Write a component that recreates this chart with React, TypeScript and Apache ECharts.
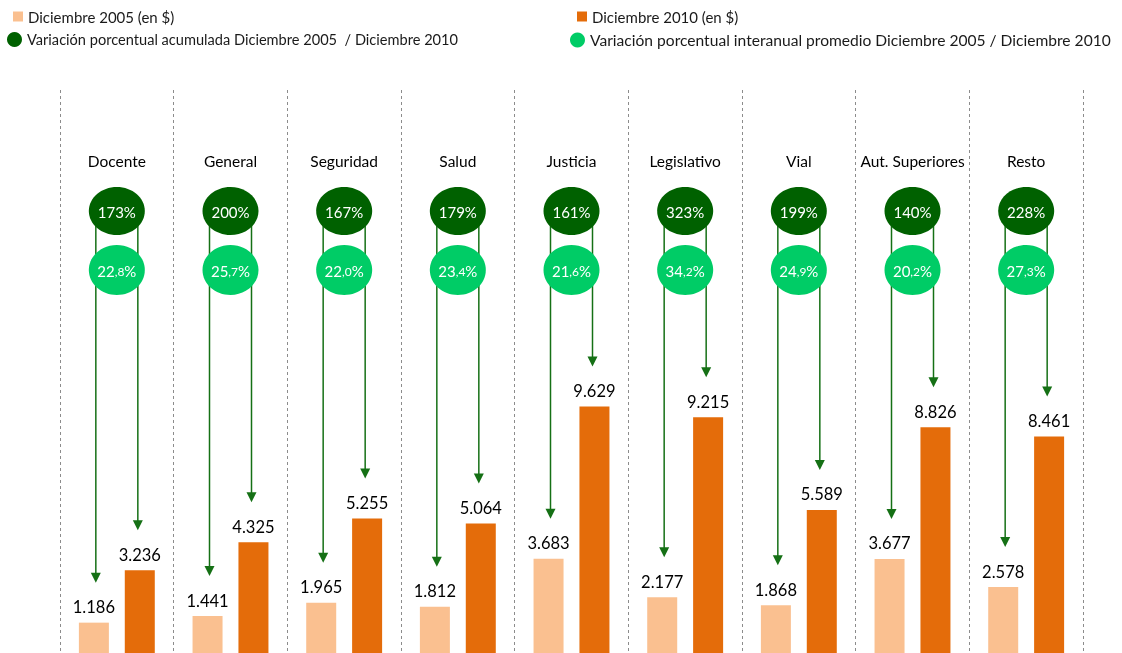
import React, { useEffect, useRef } from "react";
import * as echarts from "echarts";

const categories = ["Docente", "General", "Seguridad", "Salud", "Justicia", "Legislativo", "Vial", "Aut. Superiores", "Resto"];
const dic2005 = [1186, 1441, 1965, 1812, 3683, 2177, 1868, 3677, 2578];
const dic2010 = [3236, 4325, 5255, 5064, 9629, 9215, 5589, 8826, 8461];
const varAcumulada = [173, 200, 167, 179, 161, 323, 199, 140, 228];
const varInteranual = [22.8, 25.7, 22.0, 23.4, 21.6, 34.2, 24.9, 20.2, 27.3];

const NAME_2005 = "Diciembre 2005 (en $)";
const NAME_2010 = "Diciembre 2010 (en $)";
const NAME_ACUM = "Variación porcentual acumulada Diciembre 2005  / Diciembre 2010";
const NAME_INTER = "Variación porcentual interanual promedio Diciembre 2005 / Diciembre 2010";

const FONT = "Lato, 'Noto Sans', sans-serif";
const C_LIGHT = "#fac090";
const C_DARK = "#e46c0a";
const C_DGREEN = "#006100";
const C_LGREEN = "#00cc66";
const C_ARROW = "#157015";

const fmt = (n: number) => String(n).replace(/\B(?=(\d{3})+(?!\d))/g, ".");

export default function App() {
  const ref = useRef<HTMLDivElement>(null);
  useEffect(() => {
    if (!ref.current) return;
    const chart = echarts.init(ref.current, undefined, { renderer: "svg" });
    const rows = categories.map((_, i) => [i, dic2005[i], dic2010[i], varAcumulada[i], varInteranual[i]]);
    const legendBase = {
      orient: "vertical" as const,
      padding: 0,
      textStyle: { fontFamily: FONT, fontSize: 15, color: "#1a1a1a" },
      selectedMode: false,
    };
    chart.setOption({
      animation: false,
      legend: [
        { ...legendBase, data: [{ name: NAME_2005, icon: "rect" }], left: 13, top: 9, itemWidth: 10, itemHeight: 10 },
        { ...legendBase, data: [{ name: NAME_ACUM, icon: "circle" }], left: 7, top: 32, itemWidth: 15, itemHeight: 15, textStyle: { fontFamily: FONT, fontSize: 14.6, color: "#1a1a1a" } },
        { ...legendBase, data: [{ name: NAME_2010, icon: "rect" }], left: 577, top: 9, itemWidth: 10, itemHeight: 10 },
        { ...legendBase, data: [{ name: NAME_INTER, icon: "circle" }], left: 570, top: 32, itemWidth: 15, itemHeight: 15, textStyle: { fontFamily: FONT, fontSize: 15.6, color: "#1a1a1a" } },
      ],
      grid: { left: 60, right: 39, top: 90, bottom: 0 },
      xAxis: {
        type: "category",
        data: categories,
        position: "top",
        axisLine: { show: false },
        axisTick: { show: false },
        splitLine: { show: true, interval: 0, lineStyle: { type: [3, 3], color: "#8c8c8c", width: 1 } },
        axisLabel: { inside: true, interval: 0, margin: 63, fontFamily: FONT, fontSize: 15.5, color: "#000" },
      },
      yAxis: { type: "value", min: 0, max: 22000, show: false },
      series: [
        {
          name: NAME_2005,
          type: "bar",
          data: dic2005,
          barWidth: 30,
          barGap: "53%",
          itemStyle: { color: C_LIGHT },
          label: { show: true, position: "top", distance: 7, fontFamily: FONT, fontSize: 16.5, color: "#000", formatter: (p: any) => fmt(p.value) },
        },
        {
          name: NAME_2010,
          type: "bar",
          data: dic2010,
          barWidth: 30,
          itemStyle: { color: C_DARK },
          label: { show: true, position: "top", distance: 7, fontFamily: FONT, fontSize: 16.5, color: "#000", formatter: (p: any) => fmt(p.value) },
        },
        {
          name: NAME_ACUM,
          type: "custom",
          clip: false,
          z: 3,
          itemStyle: { color: C_DGREEN },
          encode: { x: 0, y: [1, 2] },
          data: rows,
          renderItem: (params: any, api: any) => {
            const i = api.value(0);
            const pL = api.coord([i, api.value(1)]);
            const pD = api.coord([i, api.value(2)]);
            const cx = pL[0];
            const yStart = 211;
            const arrow = (x: number, tip: number) => [
              { type: "line", shape: { x1: x, y1: yStart, x2: x, y2: tip - 8 }, style: { stroke: C_ARROW, lineWidth: 1.5 } },
              { type: "polygon", shape: { points: [[x - 5, tip - 10], [x + 5, tip - 10], [x, tip]] }, style: { fill: C_ARROW } },
            ];
            return {
              type: "group",
              children: [
                ...arrow(cx - 21, pL[1] - 40),
                ...arrow(cx + 21, pD[1] - 40),
                { type: "ellipse", shape: { cx, cy: 211, rx: 28, ry: 24 }, style: { fill: C_DGREEN } },
                {
                  type: "text",
                  x: cx,
                  y: 212,
                  style: { text: api.value(3) + "%", fill: "#fff", fontFamily: FONT, fontSize: 15, align: "center", verticalAlign: "middle" },
                },
              ],
            };
          },
        },
        {
          name: NAME_INTER,
          type: "custom",
          clip: false,
          z: 4,
          itemStyle: { color: C_LGREEN },
          encode: { x: 0, y: 1 },
          data: rows,
          renderItem: (params: any, api: any) => {
            const i = api.value(0);
            const p = api.coord([i, api.value(1)]);
            const cx = p[0];
            const v = api.value(4);
            const s = v.toFixed(1).split(".");
            return {
              type: "group",
              children: [
                { type: "ellipse", shape: { cx, cy: 270, rx: 28, ry: 25 }, style: { fill: C_LGREEN } },
                {
                  type: "text",
                  x: cx,
                  y: 271,
                  style: {
                    text: `{a|${s[0]}}{b|,${s[1]}}{a|%}`,
                    align: "center",
                    verticalAlign: "middle",
                    rich: {
                      a: { fill: "#fff", fontFamily: FONT, fontSize: 15 },
                      b: { fill: "#fff", fontFamily: FONT, fontSize: 12 },
                    },
                  },
                },
              ],
            };
          },
        },
      ],
    });
    return () => chart.dispose();
  }, []);
  return <div ref={ref} style={{ position: "fixed", left: 0, top: 0, width: 1122, height: 653 }} />;
}
